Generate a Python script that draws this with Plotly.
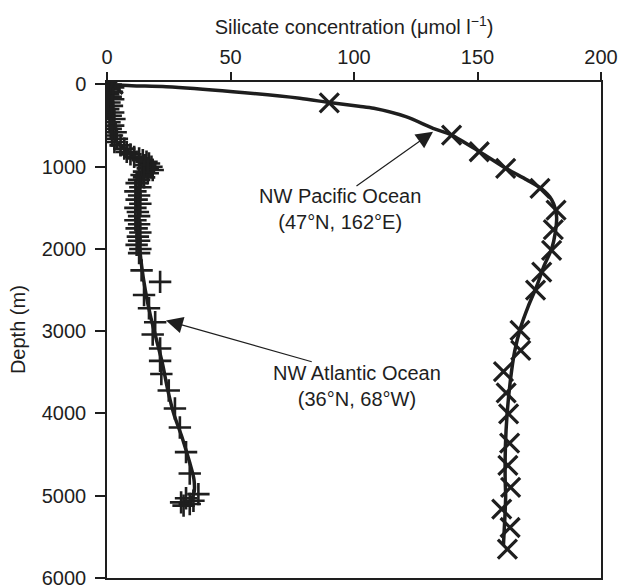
import plotly.graph_objects as go

# Pacific (x markers): silicate (umol/l), depth (m)
pac_si = [2.5, 90, 139.5, 150.7, 161.4, 175.3, 181.8, 180.7, 180, 176, 173.5,
          167.2, 167.5, 160.5, 161.6, 162.6, 163, 162.3, 163.4, 159.8, 163.2, 162.1]
pac_depth = [0, 225, 615, 818, 1021, 1264, 1529, 1764, 2016, 2280, 2500,
             2990, 3234, 3490, 3750, 4005, 4360, 4630, 4899, 5162, 5386, 5649]

# Pacific smoothed profile
pac_fit_si = [0.5, 10, 24, 51, 78, 90, 102, 108, 121, 132, 139.5, 151, 161.5, 170,
              176, 180, 182, 181.5, 180, 177, 174, 170.5, 167.5, 165, 163.3, 162,
              161.3, 161.2, 161.4, 161.1, 160.5]
pac_fit_depth = [0, 15, 27, 88, 168, 220, 265, 290, 392, 533, 615, 820, 1020, 1160,
                 1270, 1400, 1600, 1800, 2000, 2200, 2450, 2700, 2950, 3250, 3600,
                 4000, 4400, 4800, 5000, 5250, 5600]

# Atlantic (+ markers)
atl_depth = [0, 15, 35, 60, 90, 120, 150, 180, 220, 260, 300, 340, 380, 420, 460, 500,
             540, 580, 620, 660, 700, 740, 780, 820, 850, 880, 900, 920, 940, 960, 980,
             1000, 1020, 1040, 1060, 1080, 1100, 1130, 1160, 1200, 1250, 1300, 1350,
             1400, 1450, 1500, 1550, 1600, 1650, 1700, 1750, 1800, 1850, 1900, 1950,
             2000, 2050, 2260, 2400, 2560, 2720, 2890, 3040, 3210, 3360, 3520, 3720,
             3940, 4170, 4470, 4730, 4980, 5030, 5060, 5080, 5100, 5120]
atl_si = [1.5, 0.5, 2.5, 1, 2, 0.5, 1.5, 2.5, 1, 2, 0.5, 2.5, 1.5, 3, 1, 2.5,
          1.5, 3.5, 2, 4, 3, 5.5, 7, 8, 9.5, 11, 13, 14.5, 16, 17, 15.5,
          18, 16.5, 18.5, 15, 16.5, 14, 15, 13, 12, 13.5, 11.5, 13,
          12, 13.5, 11.5, 12.5, 13, 11.5, 13, 12, 13.5, 12.5, 13, 12,
          13.5, 13, 14, 21.5, 15, 17, 19.5, 18.5, 21.5, 21.5, 22, 25,
          27.5, 29.5, 32, 33.5, 37, 32, 35, 30, 33.5, 31]

# Atlantic smoothed profile
atl_fit_depth = [0, 200, 400, 600, 700, 800, 900, 1000, 1100, 1300, 1600, 1900, 2200,
                 2500, 2800, 3100, 3400, 3700, 4000, 4300, 4600, 4800, 4950, 5100]
atl_fit_si = [1.5, 1.5, 2, 2.5, 4, 8, 12, 14.5, 14, 13, 12.8, 13, 14,
              15.5, 17.5, 20, 22.5, 24.5, 27, 30.5, 33.5, 35.2, 35.3, 33.5]

x_ticks = [0, 50, 100, 150, 200]
y_ticks = [0, 1000, 2000, 3000, 4000, 5000, 6000]

INK = "#1e1e1e"
FONT = "Liberation Sans, Arial, sans-serif"

fig = go.Figure()
fig.add_trace(go.Scatter(x=pac_fit_si, y=pac_fit_depth, mode="lines",
                         line=dict(color=INK, width=3.5, shape="spline", smoothing=0.8),
                         hoverinfo="skip"))
fig.add_trace(go.Scatter(x=atl_fit_si, y=atl_fit_depth, mode="lines",
                         line=dict(color=INK, width=3.5, shape="spline", smoothing=0.8),
                         hoverinfo="skip"))
fig.add_trace(go.Scatter(x=pac_si, y=pac_depth, mode="markers",
                         marker=dict(symbol="x-thin", size=19, color=INK,
                                     line=dict(color=INK, width=3.2))))
fig.add_trace(go.Scatter(x=atl_si, y=atl_depth, mode="markers",
                         marker=dict(symbol="cross-thin", size=16, color=INK,
                                     line=dict(color=INK, width=2.6))))

annots = [
    dict(x=132, y=575, ax=100.4, ay=1246, xref="x", yref="y", axref="x", ayref="y",
         text="", showarrow=True, arrowhead=2, arrowsize=2.8, arrowwidth=1.2,
         arrowcolor=INK, standoff=0, startstandoff=0),
    dict(x=23.9, y=2868, ax=83.5, ay=3376, xref="x", yref="y", axref="x", ayref="y",
         text="", showarrow=True, arrowhead=2, arrowsize=2.8, arrowwidth=1.2,
         arrowcolor=INK, standoff=0, startstandoff=0),
    dict(x=94.2, y=1508, xref="x", yref="y", showarrow=False,
         text="NW Pacific Ocean<br>(47°N, 162°E)", align="center",
         font=dict(family=FONT, size=20, color=INK)),
    dict(x=101.2, y=3660, xref="x", yref="y", showarrow=False,
         text="NW Atlantic Ocean<br>(36°N, 68°W)", align="center",
         font=dict(family=FONT, size=20, color=INK)),
    # y-axis title
    dict(x=-0.180, y=0.5, xref="paper", yref="paper", showarrow=False,
         text="Depth (m)", textangle=-90, xanchor="center", yanchor="middle",
         font=dict(family=FONT, size=20, color=INK)),
]

fig.update_layout(
    width=619, height=586,
    margin=dict(l=107, r=18, t=82, b=8),
    paper_bgcolor="white", plot_bgcolor="white",
    showlegend=False,
    font=dict(family=FONT, size=20, color=INK),
    annotations=annots,
    xaxis=dict(side="top", range=[0, 200], tickvals=x_ticks, automargin=False,
               ticks="outside", ticklen=8, tickwidth=1.5, tickcolor=INK,
               showline=True, linecolor=INK, linewidth=1.5, mirror=True,
               showgrid=False, zeroline=False, ticklabeloverflow="allow",
               title=dict(text="Silicate concentration (μmol l<sup>−1</sup>)",
                          standoff=6, font=dict(size=20))),
    yaxis=dict(range=[6000, -30], tickvals=y_ticks, automargin=False,
               ticks="outside", ticklen=10, tickwidth=1.5, tickcolor=INK,
               showline=True, linecolor=INK, linewidth=1.5, mirror=True,
               showgrid=False, zeroline=False, ticklabelstandoff=5,
               ticklabeloverflow="allow"),
)

# remove the default page margin so the 619x586 figure fills the view exactly
fig.write_html("out.html",
               config={"displayModeBar": False},
               post_script="document.body.style.margin='0';"
                           "document.body.style.overflow='hidden';")
